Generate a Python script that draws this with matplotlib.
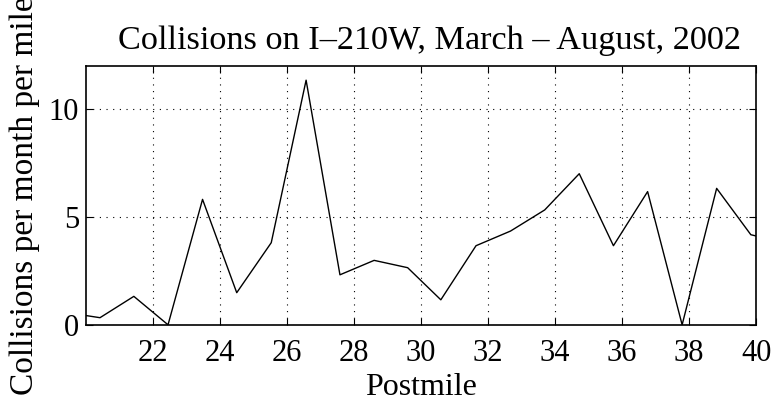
import matplotlib
matplotlib.use('Agg')
import matplotlib.pyplot as plt

plt.rcParams['font.family'] = ['Liberation Serif', 'DejaVu Serif']
plt.rcParams['axes.unicode_minus'] = False

# 数据：里程点 / 每月每英里事故数
postmile = [20.0, 20.42, 21.43, 22.45, 23.48, 24.5, 25.53, 26.57, 27.58, 28.6,
            29.6, 30.59, 31.64, 32.67, 33.69, 34.72, 35.74, 36.76, 37.79, 38.82,
            39.84, 40.0]
collisions = [0.43, 0.33, 1.32, 0.0, 5.82, 1.49, 3.81, 11.35, 2.32, 2.99,
              2.65, 1.16, 3.67, 4.35, 5.33, 7.01, 3.67, 6.18, 0.0, 6.33,
              4.18, 4.12]
xticks = [22, 24, 26, 28, 30, 32, 34, 36, 38, 40]
yticks = [0, 5, 10]

fig = plt.figure(figsize=(7.74, 4.01), dpi=100)
ax = fig.add_axes([0.111, 0.19, 0.866, 0.645])
ax.plot(postmile, collisions, color='black', linewidth=1.0)

ax.set_xlim(20.0, 40)
ax.set_ylim(0, 12)
ax.set_xticks(xticks)
ax.set_yticks(yticks)
ax.grid(True, linestyle=(0, (1, 5)), color='black', linewidth=0.8)
ax.tick_params(direction='in', top=True, right=True, length=5, labelsize=22)
ax.tick_params(axis='x', pad=10)
ax.tick_params(axis='y', pad=5)
for s in ax.spines.values():
    s.set_linewidth(1.2)

ax.set_title('Collisions on I\u2013210W, March \u2013 August, 2002', fontsize=24.7, pad=12, x=0.512)
ax.set_xlabel('Postmile', fontsize=23, labelpad=4)
ax.set_ylabel('Collisions per month per mile', fontsize=24)
ax.yaxis.set_label_coords(-0.068, 0.5)

fig.savefig('out.png', dpi=100)
